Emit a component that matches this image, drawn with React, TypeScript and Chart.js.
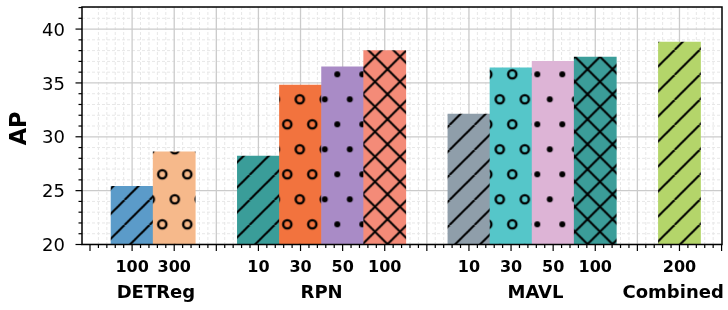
import React, { useEffect, useRef } from 'react';
import { Chart, registerables } from 'chart.js';

Chart.register(...registerables);

// ---- data ----
const groupNames = ['DETReg', 'RPN', 'MAVL', 'Combined'];
const groupLabelPositions = [0.565, 4.5, 9.58, 12.85];
const barLabels = ['100', '300', '10', '30', '50', '100', '10', '30', '50', '100', '200'];
const barSlots = [0, 1, 3, 4, 5, 6, 8, 9, 10, 11, 13];
const apValues = [25.4, 28.6, 28.2, 34.8, 36.5, 38.0, 32.1, 36.4, 37.0, 37.4, 38.8];
const barColors = [
  '#5b9bc9', '#f6b98b', '#3a9d99', '#f2733e', '#a98bc6', '#f48b78',
  '#8f9eaa', '#55c6c9', '#ddb4d6', '#3b9d99', '#b4d56a',
];
const barHatches = ['/', 'o', '/', 'o', '.', 'x', '/', 'o', '.', 'x', '/'];
const yTickValues = [20, 25, 30, 35, 40];
const xMajorTicks = [0, 1, 2, 3, 4, 5, 6, 7, 8, 9, 10, 11, 12, 13];
const yLabel = 'AP';

const X_MIN = -1.19;
const X_MAX = 14.01;
const Y_MIN = 20;
const Y_MAX = 42.05;
const HATCH = 25;
const FONT = '"DejaVu Sans"';

function makePattern(color: string, hatch: string): CanvasPattern | string {
  const S = HATCH;
  const c = document.createElement('canvas');
  const dotted = hatch === 'o' || hatch === '.';
  c.width = S;
  c.height = dotted ? 2 * S : S;
  const g = c.getContext('2d');
  if (!g) return color;
  g.fillStyle = color;
  g.fillRect(0, 0, c.width, c.height);
  g.strokeStyle = '#000';
  g.fillStyle = '#000';
  g.lineWidth = 2;
  g.lineCap = 'butt';
  if (hatch === '/' || hatch === 'x') {
    for (let o = -S; o <= 2 * S; o += S) {
      g.beginPath();
      g.moveTo(o, S);
      g.lineTo(o + S, 0);
      g.stroke();
    }
  }
  if (hatch === 'x') {
    for (let o = -S; o <= 2 * S; o += S) {
      g.beginPath();
      g.moveTo(o, 0);
      g.lineTo(o + S, S);
      g.stroke();
    }
  }
  if (dotted) {
    const pts = [[0, 0], [S, 0], [0, 2 * S], [S, 2 * S], [S / 2, S]];
    for (const [px, py] of pts) {
      g.beginPath();
      if (hatch === 'o') {
        g.lineWidth = 2.4;
        g.arc(px, py, 4.1, 0, Math.PI * 2);
        g.stroke();
      } else {
        g.arc(px, py, 3.0, 0, Math.PI * 2);
        g.fill();
      }
    }
  }
  const p = g.createPattern(c, 'repeat');
  if (!p) return color;
  let tx = 0;
  let ty = 0;
  if (hatch === '/') { tx = 24.5; ty = 0; }
  else if (hatch === 'x') { tx = 12.5; ty = -5.8; }
  else { tx = 12.3; ty = 24.3; }
  p.setTransform(new DOMMatrix([1, 0, 0, 1, tx, ty]));
  return p;
}

const decorPlugin = {
  id: 'decor',
  beforeDatasetsDraw(chart: any) {
    const { ctx, chartArea: a, scales } = chart;
    const x = scales.x;
    const y = scales.y;
    ctx.save();
    ctx.beginPath();
    ctx.rect(a.left, a.top, a.right - a.left, a.bottom - a.top);
    ctx.clip();
    // minor grid
    ctx.strokeStyle = '#e7e7e7';
    ctx.lineWidth = 1;
    ctx.setLineDash([3, 2]);
    for (let k = Math.ceil(X_MIN * 5); k <= Math.floor(X_MAX * 5); k++) {
      if (k % 5 === 0) continue;
      const px = x.getPixelForValue(k / 5);
      ctx.beginPath();
      ctx.moveTo(px, a.top);
      ctx.lineTo(px, a.bottom);
      ctx.stroke();
    }
    for (let v = Math.ceil(Y_MIN); v <= Y_MAX; v++) {
      if (v % 5 === 0) continue;
      const py = y.getPixelForValue(v);
      ctx.beginPath();
      ctx.moveTo(a.left, py);
      ctx.lineTo(a.right, py);
      ctx.stroke();
    }
    // major grid
    ctx.setLineDash([]);
    ctx.strokeStyle = '#cbcbcb';
    ctx.lineWidth = 1.3;
    for (const v of xMajorTicks) {
      const px = x.getPixelForValue(v);
      ctx.beginPath();
      ctx.moveTo(px, a.top);
      ctx.lineTo(px, a.bottom);
      ctx.stroke();
    }
    for (const v of yTickValues) {
      const py = y.getPixelForValue(v);
      ctx.beginPath();
      ctx.moveTo(a.left, py);
      ctx.lineTo(a.right, py);
      ctx.stroke();
    }
    ctx.restore();
  },
  afterDatasetsDraw(chart: any) {
    const { ctx, chartArea: a, scales } = chart;
    const x = scales.x;
    const y = scales.y;
    ctx.save();
    // ticks
    ctx.strokeStyle = '#000';
    ctx.lineWidth = 1.2;
    for (let k = Math.ceil(X_MIN * 5); k <= Math.floor(X_MAX * 5); k++) {
      const px = x.getPixelForValue(k / 5);
      const len = k % 5 === 0 ? 6.5 : 3.5;
      ctx.beginPath();
      ctx.moveTo(px, a.bottom);
      ctx.lineTo(px, a.bottom + len);
      ctx.stroke();
    }
    for (let v = Math.ceil(Y_MIN); v <= Y_MAX; v++) {
      const py = y.getPixelForValue(v);
      const len = v % 5 === 0 ? 6.5 : 3.5;
      ctx.beginPath();
      ctx.moveTo(a.left, py);
      ctx.lineTo(a.left - len, py);
      ctx.stroke();
    }
    // frame
    ctx.lineWidth = 1.5;
    ctx.strokeRect(a.left, a.top, a.right - a.left, a.bottom - a.top);
    // group labels
    ctx.fillStyle = '#000';
    ctx.font = `bold 18px ${FONT}`;
    ctx.textAlign = 'center';
    ctx.textBaseline = 'alphabetic';
    groupNames.forEach((name, i) => {
      ctx.fillText(name, x.getPixelForValue(groupLabelPositions[i]), 297.7);
    });
    // y axis title
    ctx.font = `bold 22.5px ${FONT}`;
    ctx.translate(26.2, (y.getPixelForValue(Y_MIN) + y.getPixelForValue(Y_MAX)) / 2 + 2.6);
    ctx.rotate(-Math.PI / 2);
    ctx.textAlign = 'center';
    ctx.fillText(yLabel, 0, 0);
    ctx.restore();
  },
};

export default function App() {
  const ref = useRef<HTMLCanvasElement | null>(null);
  useEffect(() => {
    const canvas = ref.current;
    if (!canvas) return;
    const patterns = barColors.map((c, i) => makePattern(c, barHatches[i]));
    const chart = new Chart(canvas, {
      type: 'bar',
      data: {
        datasets: [
          {
            data: barSlots.map((s, i) => ({ x: s, y: apValues[i] })),
            backgroundColor: patterns as any,
            borderWidth: 0,
            barPercentage: 1,
            categoryPercentage: 1,
          },
        ],
      },
      options: {
        animation: false,
        responsive: false,
        maintainAspectRatio: false,
        events: [],
        layout: { padding: { left: 0, top: 7, right: 6, bottom: 0 } },
        plugins: { legend: { display: false }, tooltip: { enabled: false } },
        scales: {
          x: {
            type: 'linear',
            min: X_MIN,
            max: X_MAX,
            offset: false,
            grid: { display: false, drawTicks: false },
            border: { display: false },
            afterBuildTicks: (s: any) => {
              s.ticks = xMajorTicks.map((v) => ({ value: v }));
            },
            afterFit: (s: any) => {
              s.height = 65.5;
              s.paddingLeft = 0;
              s.paddingRight = 0;
              s.paddingTop = 0;
              s.paddingBottom = 0;
            },
            ticks: {
              autoSkip: false,
              maxRotation: 0,
              minRotation: 0,
              padding: 13.6,
              color: '#000',
              font: { family: 'DejaVu Sans', size: 16, weight: 'bold' },
              callback: (v: any) => {
                const i = barSlots.indexOf(Number(v));
                return i >= 0 ? barLabels[i] : '';
              },
            },
          },
          y: {
            type: 'linear',
            min: Y_MIN,
            max: Y_MAX,
            grid: { display: false, drawTicks: false },
            border: { display: false },
            afterBuildTicks: (s: any) => {
              s.ticks = yTickValues.map((v) => ({ value: v }));
            },
            afterFit: (s: any) => {
              s.width = 82;
              s.paddingLeft = 0;
              s.paddingRight = 0;
              s.paddingTop = 0;
              s.paddingBottom = 0;
            },
            ticks: {
              padding: 17,
              labelOffset: 2,
              color: '#000',
              font: { family: 'DejaVu Sans', size: 18 },
              callback: (v: any) => String(v),
            },
          },
        },
      } as any,
      plugins: [decorPlugin],
    });
    return () => chart.destroy();
  }, []);
  return (
    <div style={{ position: 'absolute', left: 0, top: 0, width: 728, height: 310, background: '#fff' }}>
      <canvas ref={ref} width={728} height={310} style={{ display: 'block', width: 728, height: 310 }} />
    </div>
  );
}
